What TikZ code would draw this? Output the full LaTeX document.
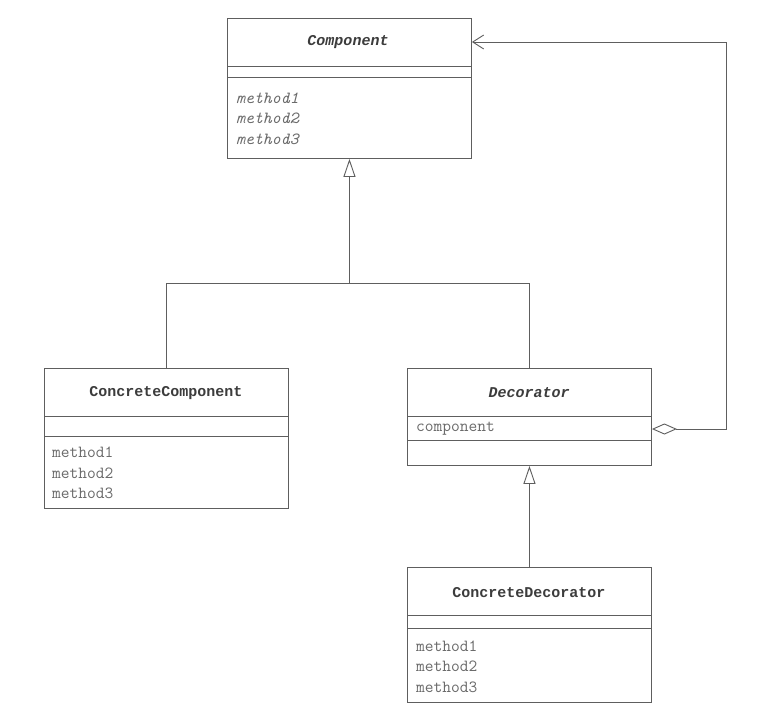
\documentclass[tikz,border=0pt]{standalone}
\usepackage{fontspec}
\newfontfamily\titlefont{Liberation Mono}
\usetikzlibrary{arrows.meta}
\definecolor{linec}{HTML}{5E5E5E}
\definecolor{titlec}{HTML}{3C3C3C}
\definecolor{methc}{HTML}{6A6A6A}
\begin{document}
\begin{tikzpicture}[x=1pt,y=-1pt,
  classbox/.style={draw=linec, line width=0.9pt, rectangle, inner sep=0pt, anchor=north west, minimum width=244pt},
  sep/.style={draw=linec, line width=0.9pt},
  ctitle/.style={font=\titlefont\bfseries\fontsize{15}{18}\selectfont, text=titlec, inner sep=0pt},
  meth/.style={font=\ttfamily\fontsize{17}{20}\selectfont, text=methc, inner sep=0pt, anchor=west},
  conn/.style={draw=linec, line width=0.9pt},
  inh/.style={conn, -{Triangle[open, length=18pt, width=12pt, line width=0.9pt]}},
  agg/.style={conn, {Diamond[open, length=25pt, width=11pt, line width=0.9pt]}-{Straight Barb[length=11pt, width=14pt, line width=0.9pt]}}
]
\useasboundingbox[fill=white] (0,0) rectangle (783,710);

% Component
\node[classbox, minimum height=140pt] (comp) at (227,18) {};
\draw[sep] (comp.west |- 0,66) -- (comp.east |- 0,66);
\draw[sep] (comp.west |- 0,77) -- (comp.east |- 0,77);
\node[ctitle] (compT) at (348,42) {\textit{Component}};
\node[meth] (compM1) at (236,98) {\textit{method1}};
\node[meth] (compM2) at (236,118) {\textit{method2}};
\node[meth] (compM3) at (236,139) {\textit{method3}};

% ConcreteComponent
\node[classbox, minimum height=140pt] (cc) at (44,368) {};
\draw[sep] (cc.west |- 0,416) -- (cc.east |- 0,416);
\draw[sep] (cc.west |- 0,436) -- (cc.east |- 0,436);
\node[ctitle] (ccT) at (166,393) {ConcreteComponent};
\node[meth] (ccM1) at (52,452) {method1};
\node[meth] (ccM2) at (52,473) {method2};
\node[meth] (ccM3) at (52,493) {method3};

% Decorator
\node[classbox, minimum height=97pt] (dec) at (407,368) {};
\draw[sep] (dec.west |- 0,416) -- (dec.east |- 0,416);
\draw[sep] (dec.west |- 0,440) -- (dec.east |- 0,440);
\node[ctitle] (decT) at (529,393) {\textit{Decorator}};
\node[meth] (decA) at (416,429) {component};

% ConcreteDecorator
\node[classbox, minimum height=135pt] (cd) at (407,567) {};
\draw[sep] (cd.west |- 0,615) -- (cd.east |- 0,615);
\draw[sep] (cd.west |- 0,628) -- (cd.east |- 0,628);
\node[ctitle] (cdT) at (529,593) {ConcreteDecorator};
\node[meth] (cdM1) at (416,646) {method1};
\node[meth] (cdM2) at (416,666) {method2};
\node[meth] (cdM3) at (416,687) {method3};

% Connectors
\coordinate (jn) at (comp.south |- 0,283);
\draw[conn] (cc.north) |- (jn);
\draw[conn] (dec.north) |- (jn);
\draw[inh] (jn) -- (comp.south);
\draw[inh] (cd.north) -- (dec.south);

\coordinate (aggy) at (0,429);
\coordinate (corner) at (726,42);
\draw[agg] (dec.east |- aggy) -| (corner) -- (comp.east |- corner);
\end{tikzpicture}
\end{document}
